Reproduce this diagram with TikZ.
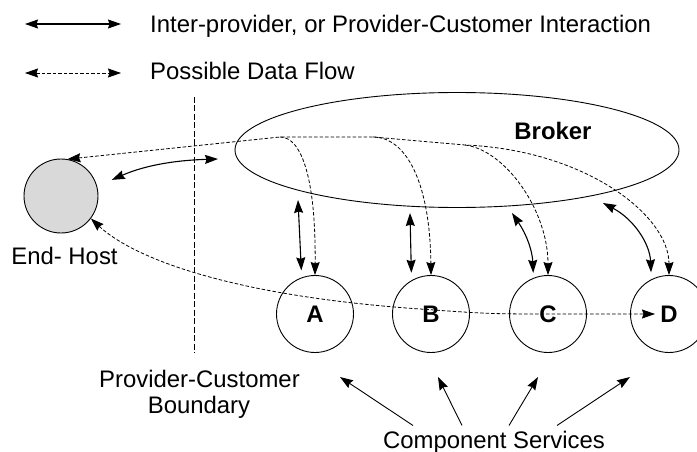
\documentclass[tikz,border=0pt]{standalone}
\usepackage{fontspec}
\setmainfont{Liberation Sans}
\usetikzlibrary{arrows.meta,shapes.geometric,calc}
\begin{document}
\begin{tikzpicture}[x=1pt,y=-1pt,
  >={Stealth[length=13pt,width=9pt,inset=1.5pt]},
  every node/.style={inner sep=0pt,font=\fontsize{23.9}{26}\selectfont},
  talk/.style={line width=1.1pt,<->},
  flow/.style={line width=0.8pt,dash pattern=on 3.5pt off 2pt},
  border/.style={line width=0.9pt,dash pattern=on 6pt off 2.5pt},
  svc/.style={circle,draw,line width=0.9pt,minimum size=77pt,
              font=\fontsize{23.9}{26}\selectfont\bfseries},
  hostnode/.style={circle,draw,line width=0.9pt,minimum size=74pt,
              fill=black!15},
  pointer/.style={line width=0.9pt,->}]

\useasboundingbox (0,0) rectangle (697,452);
\clip (0,0) rectangle (697,452);

% legend
\coordinate (l1a) at (25,24);
\coordinate (l1b) at (121,24);
\coordinate (l2a) at (25,73);
\coordinate (l2b) at (121,73);
\draw[talk] (l1a) -- (l1b);
\draw[flow,<->] (l2a) -- (l2b);
\node[anchor=base west] (leg1) at (150,33) {Inter-provider, or Provider-Customer Interaction};
\node[anchor=base west] (leg2) at (150,80) {Possible Data Flow};

% provider-customer boundary
\coordinate (bndTop) at (194,97);
\coordinate (bndBot) at (194,353);
\draw[border] (bndTop) -- (bndBot);
\node[anchor=base] (bnd1) at (199.5,387) {Provider-Customer};
\node[anchor=base] (bnd2) at (199,413) {Boundary};

% end host
\node[hostnode] (host) at (61,196) {};
\node (hostlabel) at (64.5,255.5) {End- Host};

% broker
\node[ellipse,draw,line width=0.9pt,minimum width=444pt,minimum height=115pt] (broker) at (457,150) {};
\node[font=\fontsize{23.9}{26}\selectfont\bfseries] (brokerlabel) at (553,131) {Broker};

% component services
\node[svc] (A) at (315,314) {A};
\node[svc] (B) at (431,314) {B};
\node[svc] (C) at (548,314) {C};
\node[svc] (D) at (669,314) {D};

% junctions of the data flow inside the broker
\coordinate (brA) at (280,137);
\coordinate (brB) at (373,137);
\coordinate (brC) at (465,145);

% data flow from broker to host and services
\draw[flow,<->] (host.80) -- (brA) -- (brB) -- (brC)
  .. controls (585,150) and (669,215) .. (D.north);
\draw[flow,->] (brA) .. controls (302,137) and (316,180) .. (A.north);
\draw[flow,->] (brB) .. controls (405,137) and (430,180) .. (B.north);
\draw[flow,->] (brC) .. controls (505,150) and (548,210) .. (C.north);

% data flow from host through the services
\draw[flow,<->,shorten >=14pt] (host.-37) .. controls (130,255) and (220,295) .. (420,309)
  .. controls (490,314) .. (560,314) -- (D.center);

% interactions with the broker
\coordinate (hostTalk) at (218,159);
\coordinate (aTalk) at (298,200);
\coordinate (bTalk) at (410,213);
\coordinate (cTalk) at (512,213);
\coordinate (dTalk) at (603,203);
\draw[talk,shorten <=16pt] (host.15) to[bend left=11] (hostTalk);
\draw[talk,shorten >=7pt] (aTalk) -- (A.110);
\draw[talk,shorten >=7.5pt] (bTalk) -- (B.120);
\draw[talk,shorten >=5pt] (cTalk) to[bend left=16] (C.112);
\draw[talk,shorten >=7pt] (dTalk) to[bend left=30] (D.117);

% component services label
\node[anchor=base] (comp) at (494,448) {Component Services};
\coordinate (hA) at (340,377);
\coordinate (hB) at (438,377);
\coordinate (hC) at (538,377);
\coordinate (hD) at (630,377);
\draw[pointer] ([xshift=-81pt,yshift=5pt]comp.north) -- (hA);
\draw[pointer] ([xshift=-32pt,yshift=5pt]comp.north) -- (hB);
\draw[pointer] ([xshift=15pt,yshift=5pt]comp.north) -- (hC);
\draw[pointer] ([xshift=63pt,yshift=5pt]comp.north) -- (hD);
\end{tikzpicture}
\end{document}
